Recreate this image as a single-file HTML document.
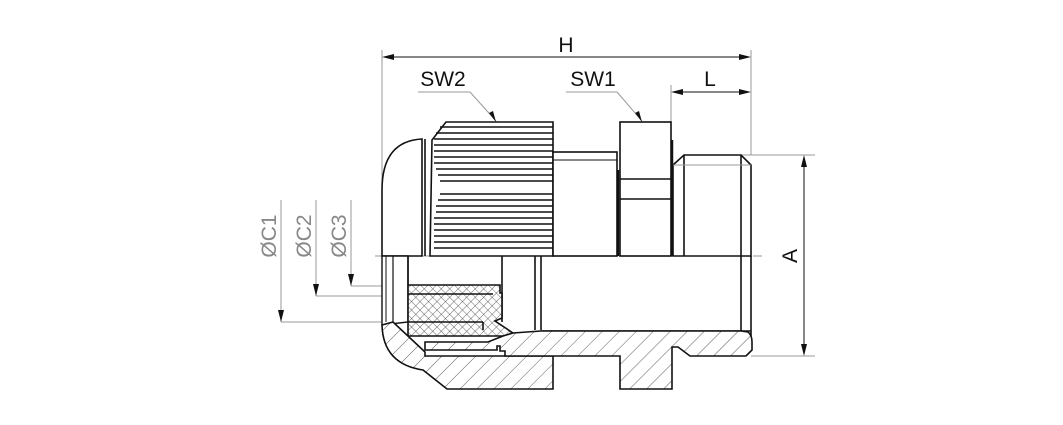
<!DOCTYPE html>
<html><head><meta charset="utf-8"><style>
html,body{margin:0;padding:0;background:#fff;}
svg{display:block;font-family:"Liberation Sans",sans-serif;}
</style></head><body>
<svg width="1063" height="425" viewBox="0 0 1063 425" xmlns="http://www.w3.org/2000/svg">
<defs>
<pattern id="diag" patternUnits="userSpaceOnUse" width="12" height="12" patternTransform="rotate(45)">
<rect width="12" height="12" fill="#fff"/><line x1="0" y1="0" x2="0" y2="12" stroke="#333" stroke-width="0.8"/>
</pattern>
<pattern id="cross" patternUnits="userSpaceOnUse" width="6" height="6" patternTransform="rotate(45)">
<rect width="6" height="6" fill="#fff"/><line x1="0" y1="0" x2="0" y2="6" stroke="#333" stroke-width="0.7"/><line x1="0" y1="0" x2="6" y2="0" stroke="#333" stroke-width="0.7"/>
</pattern>
</defs>

<g stroke="#999" stroke-width="1" fill="none">
<line x1="382" y1="50" x2="382" y2="256"/>
<line x1="751" y1="50" x2="751" y2="155"/>
<line x1="671" y1="85" x2="671" y2="122"/>
<line x1="741" y1="155" x2="815" y2="155"/>
<line x1="751" y1="356" x2="815" y2="356"/>
<line x1="418" y1="92" x2="470" y2="92"/>
<line x1="470" y1="92" x2="496" y2="121"/>
<line x1="566" y1="92" x2="617" y2="92"/>
<line x1="617" y1="92" x2="642" y2="121"/>
<line x1="281" y1="200" x2="281" y2="322"/><line x1="281" y1="322" x2="384" y2="322"/>
<line x1="316" y1="200" x2="316" y2="296"/><line x1="316" y1="296" x2="410" y2="296"/>
<line x1="351" y1="200" x2="351" y2="286"/><line x1="351" y1="286" x2="410" y2="286"/>
<line x1="375" y1="256" x2="762" y2="256" stroke-dasharray="30,4,4,4"/>
</g>
<g stroke="#111" stroke-width="1">
<line x1="392" y1="57" x2="741" y2="57"/>
<line x1="681" y1="92" x2="741" y2="92"/>
<line x1="804" y1="165" x2="804" y2="346"/>
</g>
<g fill="#111">
<path d="M382,57 l12,-3 v6z"/><path d="M751,57 l-12,-3 v6z"/>
<path d="M671,92 l12,-3 v6z"/><path d="M751,92 l-12,-3 v6z"/>
<path d="M804,155 l-3,12 h6z"/><path d="M804,356 l-3,-12 h6z"/>
<path d="M496,122 l-7,-9 l4,-2z"/><path d="M642,122 l-7,-9 l4,-2z"/>
<path d="M281,322 l-3,-12 h6z"/><path d="M316,296 l-3,-12 h6z"/><path d="M351,286 l-3,-12 h6z"/>
</g>

<g font-size="21" fill="#111">
<text x="566" y="52" text-anchor="middle">H</text>
<text x="443" y="86" text-anchor="middle">SW2</text>
<text x="593" y="86" text-anchor="middle">SW1</text>
<text x="710" y="86" text-anchor="middle">L</text>
<text transform="translate(797,256) rotate(-90)" text-anchor="middle">A</text>
</g>
<g font-size="21" fill="#888">
<text transform="translate(276,236) rotate(-90)" text-anchor="middle">ØC1</text>
<text transform="translate(311,236) rotate(-90)" text-anchor="middle">ØC2</text>
<text transform="translate(346,236) rotate(-90)" text-anchor="middle">ØC3</text>
</g>

<g stroke="#111" stroke-width="1.6" fill="#fff">
<path d="M422,139 Q382,141 382,190 L382,256 L422,256 Z"/>
<line x1="425" y1="139" x2="425" y2="256"/>
<path d="M446,122 L553,122 L553,256 L430,256 L432,140 Z"/>
<rect x="553" y="152" width="64" height="104"/>
<line x1="553" y1="160" x2="617" y2="160" stroke-width="1"/>
<rect x="620" y="122" width="51" height="134"/>
<line x1="620" y1="179" x2="671" y2="179"/><line x1="620" y1="199" x2="671" y2="199"/>
<path d="M684,155 L741,155 L751,165 L751,256 L673,256 L673,165 Z"/>
<line x1="684" y1="155" x2="684" y2="256"/><line x1="741" y1="155" x2="741" y2="256"/>
<line x1="673" y1="165" x2="751" y2="165" stroke="#999" stroke-width="1"/>
<line x1="618" y1="170" x2="618" y2="256" stroke-width="2.5"/>
<line x1="672" y1="140" x2="672" y2="256" stroke-width="2.5"/>
</g>
<g stroke="#111" stroke-width="1.5">
<line x1="440" y1="127" x2="553" y2="127"/><line x1="436" y1="133" x2="553" y2="133"/>
<line x1="434" y1="139" x2="553" y2="139"/><line x1="434" y1="145" x2="553" y2="145"/>
<line x1="434" y1="151" x2="553" y2="151"/><line x1="434" y1="157" x2="553" y2="157"/>
<line x1="434" y1="163" x2="553" y2="163"/><line x1="436" y1="169" x2="553" y2="169"/>
<line x1="438" y1="175" x2="553" y2="175"/><line x1="440" y1="181" x2="553" y2="181"/>
<line x1="440" y1="194" x2="553" y2="194"/><line x1="438" y1="200" x2="553" y2="200"/>
<line x1="436" y1="206" x2="553" y2="206"/><line x1="436" y1="212" x2="553" y2="212"/>
<line x1="434" y1="218" x2="553" y2="218"/><line x1="434" y1="224" x2="553" y2="224"/>
<line x1="434" y1="230" x2="553" y2="230"/><line x1="434" y1="236" x2="553" y2="236"/>
<line x1="434" y1="242" x2="553" y2="242"/><line x1="434" y1="248" x2="553" y2="248"/>
</g>

<g stroke="#111" stroke-width="1.6" fill="#fff">
<path d="M382,256 L382,325 L408,322 L408,256 Z" stroke-width="1.4"/>
<line x1="386" y1="256" x2="386" y2="322" stroke-width="1"/>
<line x1="393" y1="256" x2="393" y2="322" stroke-width="1.2"/>
<line x1="408" y1="256" x2="408" y2="285"/>
<line x1="502" y1="256" x2="502" y2="322"/>
<line x1="535" y1="256" x2="535" y2="330"/>
<line x1="541" y1="256" x2="541" y2="330"/>
<line x1="541" y1="331" x2="751" y2="331"/>
<line x1="751" y1="256" x2="751" y2="340"/>
<line x1="741" y1="256" x2="741" y2="332"/>
<path d="M408,285 L500,285 L500,293 L502,293 L502,318 L495,321 L513,333 L505,336 L408,336 Z" fill="url(#cross)"/>
<line x1="408" y1="294" x2="493" y2="294"/>
<line x1="408" y1="322" x2="483" y2="322"/>
<line x1="483" y1="322" x2="483" y2="330"/>
<path d="M382,325 Q383,364 423,370 L447,389 L553,389 L553,356 L425,356 L425,352 L393,322 Z" fill="url(#diag)"/>
<path d="M513,333 L541,331 L741,331 L748,332 Q752,335 752,342 L752,350 L746,356 L690,356 L678,347 L672,347 L672,389 L620,389 L620,356 L505,356 L505,351 L500,351 L500,346 L497,346 L497,350 L425,350 L425,342 L488,342 L503,336 Z" fill="url(#diag)"/>
<line x1="425" y1="342" x2="488" y2="342" stroke-width="1"/>
<line x1="440" y1="350" x2="497" y2="350" stroke-width="1"/>
</g>
</svg>
</body></html>
